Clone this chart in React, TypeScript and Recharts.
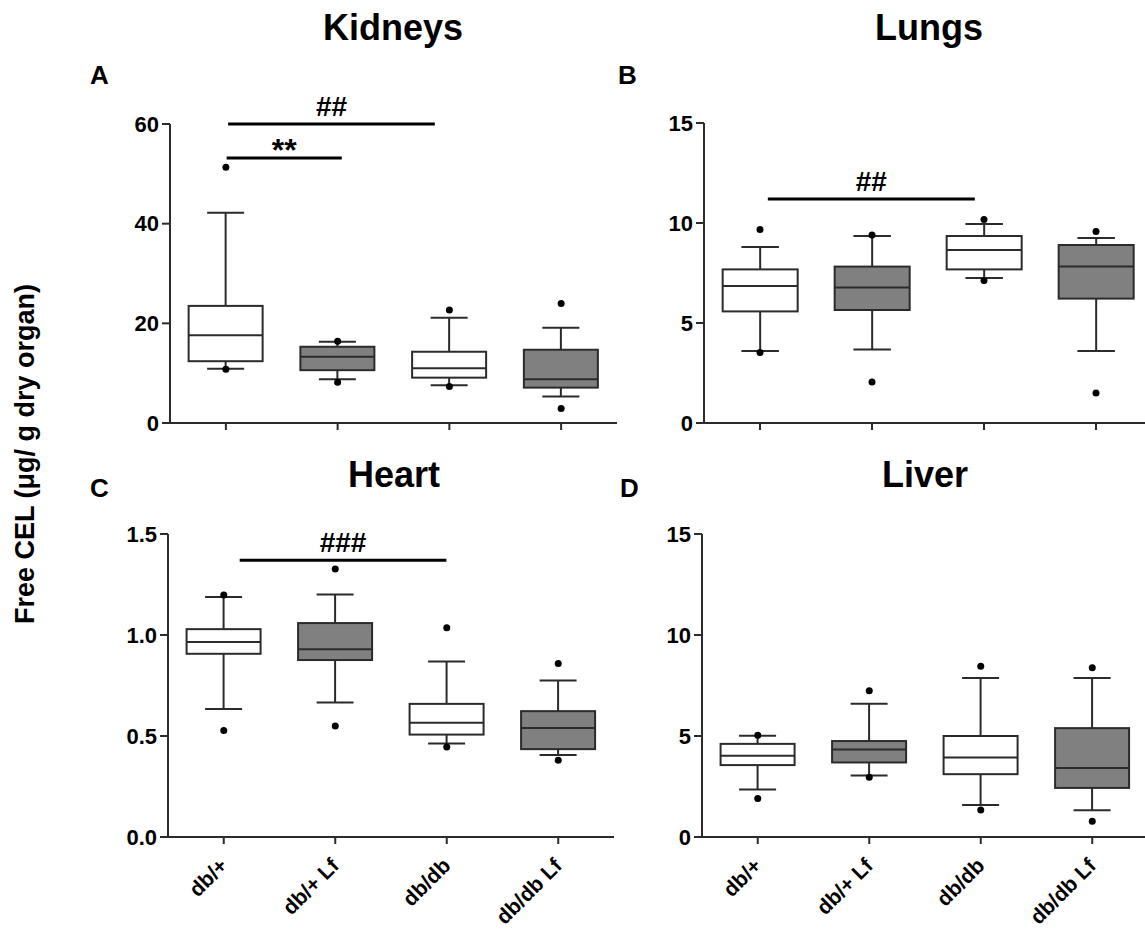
import React from "react";
import { ComposedChart, Bar, Scatter, XAxis, YAxis, ReferenceLine } from "recharts";

// groups on the x axis
const groups = ["db/+", "db/+ Lf", "db/db", "db/db Lf"];

// Kidneys (A)
const kidneysMin = [10.9, 8.8, 7.6, 5.3];
const kidneysQ1 = [12.4, 10.6, 9.1, 7.1];
const kidneysMedian = [17.6, 13.3, 11.0, 8.8];
const kidneysQ3 = [23.5, 15.3, 14.3, 14.7];
const kidneysMax = [42.2, 16.3, 21.1, 19.1];
const kidneysOutHi = [51.3, 16.4, 22.7, 24.0];
const kidneysOutLo = [10.8, 8.2, 7.3, 2.9];

// Lungs (B)
const lungsMin = [3.6, 3.67, 7.25, 3.6];
const lungsQ1 = [5.58, 5.65, 7.68, 6.22];
const lungsMedian = [6.85, 6.78, 8.65, 7.83];
const lungsQ3 = [7.68, 7.82, 9.35, 8.9];
const lungsMax = [8.8, 9.35, 9.95, 9.25];
const lungsOutHi = [9.67, 9.4, 10.18, 9.57];
const lungsOutLo = [3.53, 2.05, 7.13, 1.5];

// Heart (C)
const heartMin = [0.634, 0.666, 0.463, 0.406];
const heartQ1 = [0.907, 0.876, 0.507, 0.435];
const heartMedian = [0.965, 0.929, 0.565, 0.54];
const heartQ3 = [1.029, 1.059, 0.659, 0.623];
const heartMax = [1.188, 1.2, 0.869, 0.775];
const heartOutHi = [1.198, 1.327, 1.036, 0.859];
const heartOutLo = [0.527, 0.549, 0.446, 0.38];

// Liver (D)
const liverMin = [2.35, 3.04, 1.59, 1.32];
const liverQ1 = [3.56, 3.69, 3.11, 2.43];
const liverMedian = [4.02, 4.33, 3.94, 3.42];
const liverQ3 = [4.61, 4.75, 5.0, 5.39];
const liverMax = [5.01, 6.6, 7.87, 7.87];
const liverOutHi = [5.04, 7.24, 8.45, 8.38];
const liverOutLo = [1.9, 2.96, 1.34, 0.78];

// y axis ticks
const kidneysTicks = [0, 20, 40, 60];
const lungsTicks = [0, 5, 10, 15];
const heartTicks = [0, 0.5, 1.0, 1.5];
const liverTicks = [0, 5, 10, 15];

const boxFills = ["#ffffff", "#808080", "#ffffff", "#808080"];
const ink = "#2b2b2b";
const font = '"Liberation Sans", Arial, sans-serif';

type Row = {
  name: string;
  min: number;
  q1: number;
  median: number;
  q3: number;
  max: number;
  outHi: number;
  outLo: number;
};

// from / to are in category widths from the left end of the axis
type Bracket = { from: number; to: number; y: number; text: string; size: number; offset: number };

function buildRows(
  min: number[],
  q1: number[],
  median: number[],
  q3: number[],
  max: number[],
  outHi: number[],
  outLo: number[]
): Row[] {
  return groups.map((name, i) => ({
    name,
    min: min[i],
    q1: q1[i],
    median: median[i],
    q3: q3[i],
    max: max[i],
    outHi: outHi[i],
    outLo: outLo[i],
  }));
}

const kidneysRows = buildRows(kidneysMin, kidneysQ1, kidneysMedian, kidneysQ3, kidneysMax, kidneysOutHi, kidneysOutLo);
const lungsRows = buildRows(lungsMin, lungsQ1, lungsMedian, lungsQ3, lungsMax, lungsOutHi, lungsOutLo);
const heartRows = buildRows(heartMin, heartQ1, heartMedian, heartQ3, heartMax, heartOutHi, heartOutLo);
const liverRows = buildRows(liverMin, liverQ1, liverMedian, liverQ3, liverMax, liverOutHi, liverOutLo);

// the bar spans min..max, the box is drawn inside it
function BoxShape(props: any) {
  const { x, y, width, height, payload } = props;
  if (!payload) return <g />;
  const top = Math.min(y, y + height);
  const h = Math.abs(height);
  const span = payload.max - payload.min || 1;
  const py = (v: number) => top + ((payload.max - v) / span) * h;
  const cx = x + width / 2;
  const cap = width / 4;
  const fill = boxFills[groups.indexOf(payload.name)];
  return (
    <g>
      <line x1={cx} x2={cx} y1={py(payload.max)} y2={py(payload.q3)} stroke={ink} strokeWidth={2} />
      <line x1={cx} x2={cx} y1={py(payload.q1)} y2={py(payload.min)} stroke={ink} strokeWidth={2} />
      <line x1={cx - cap} x2={cx + cap} y1={py(payload.max)} y2={py(payload.max)} stroke={ink} strokeWidth={2} />
      <line x1={cx - cap} x2={cx + cap} y1={py(payload.min)} y2={py(payload.min)} stroke={ink} strokeWidth={2} />
      <rect
        x={x}
        y={py(payload.q3)}
        width={width}
        height={py(payload.q1) - py(payload.q3)}
        fill={fill}
        stroke={ink}
        strokeWidth={2}
      />
      <line x1={x} x2={x + width} y1={py(payload.median)} y2={py(payload.median)} stroke={ink} strokeWidth={2} />
    </g>
  );
}

function OutlierDot(props: any) {
  const { cx, cy } = props;
  if (cx == null || cy == null) return <g />;
  return <circle cx={cx} cy={cy} r={3.5} fill="#000" />;
}

function AngledTick(props: any) {
  const { x, y, payload } = props;
  const ax = x + 5;
  const ay = y + 21;
  return (
    <text
      x={ax}
      y={ay}
      transform={`rotate(-45 ${ax} ${ay})`}
      textAnchor="end"
      fontSize={21}
      fontWeight={700}
      fill="#000"
    >
      {payload.value}
    </text>
  );
}

// reference segment runs from first to last category centre; the bracket is placed inside it
function bracketShape(b: Bracket) {
  return (props: any) => {
    const { x1, y1, x2 } = props;
    const band = (x2 - x1) / (groups.length - 1);
    const xa = x1 + (b.from - 0.5) * band;
    const xb = x1 + (b.to - 0.5) * band;
    return (
      <g>
        <line x1={xa} x2={xb} y1={y1} y2={y1} stroke="#000" strokeWidth={3} />
        <text x={(xa + xb) / 2} y={y1 - b.offset} textAnchor="middle" fontSize={b.size} fontWeight={700} fill="#000">
          {b.text}
        </text>
      </g>
    );
  };
}

type PanelProps = {
  rows: Row[];
  ticks: number[];
  decimals: number;
  left: number;
  top: number;
  width: number;
  height: number;
  marginTop: number;
  labels: boolean;
  brackets: Bracket[];
};

function Panel({ rows, ticks, decimals, left, top, width, height, marginTop, labels, brackets }: PanelProps) {
  return (
    <div style={{ position: "absolute", left, top }}>
      <ComposedChart
        width={width}
        height={height}
        data={rows}
        margin={{ top: marginTop, right: 0, bottom: 0, left: 0 }}
        barCategoryGap="16.67%"
      >
        <XAxis
          dataKey="name"
          type="category"
          interval={0}
          height={labels ? 90 : 20}
          tickSize={7}
          axisLine={{ stroke: ink, strokeWidth: 2 }}
          tickLine={{ stroke: ink, strokeWidth: 2 }}
          tick={labels ? (p: any) => <AngledTick {...p} /> : () => <g />}
        />
        <YAxis
          type="number"
          domain={[ticks[0], ticks[ticks.length - 1]]}
          ticks={ticks}
          interval={0}
          width={110}
          tickSize={8}
          tickMargin={3}
          axisLine={{ stroke: ink, strokeWidth: 2 }}
          tickLine={{ stroke: ink, strokeWidth: 2 }}
          tick={{ fill: "#000", fontSize: 22, fontWeight: 700 }}
          tickFormatter={(v: number) => v.toFixed(decimals)}
        />
        <Bar dataKey={(d: Row) => [d.min, d.max]} shape={BoxShape} isAnimationActive={false} />
        <Scatter dataKey="outHi" shape={OutlierDot} isAnimationActive={false} />
        <Scatter dataKey="outLo" shape={OutlierDot} isAnimationActive={false} />
        {brackets.map((b, i) => (
          <ReferenceLine
            key={i}
            segment={[
              { x: groups[0], y: b.y },
              { x: groups[groups.length - 1], y: b.y },
            ]}
            ifOverflow="visible"
            shape={bracketShape(b)}
          />
        ))}
      </ComposedChart>
    </div>
  );
}

export default function App() {
  const titleStyle = { fontSize: 36, fontWeight: 700, fill: "#000" } as const;
  const letterStyle = { fontSize: 26, fontWeight: 700, fill: "#000" } as const;
  return (
    <div
      style={{
        position: "absolute",
        left: 0,
        top: 0,
        width: 1145,
        height: 933,
        overflow: "hidden",
        background: "#fff",
        fontFamily: font,
      }}
    >
      <Panel
        rows={kidneysRows}
        ticks={kidneysTicks}
        decimals={0}
        left={60}
        top={0}
        width={557}
        height={443}
        marginTop={124}
        labels={false}
        brackets={[
          { from: 0.52, to: 2.37, y: 60, text: "##", size: 28, offset: 8 },
          { from: 0.507, to: 1.537, y: 53.2, text: "**", size: 32, offset: -3 },
        ]}
      />
      <Panel
        rows={lungsRows}
        ticks={lungsTicks}
        decimals={0}
        left={594}
        top={0}
        width={558}
        height={443}
        marginTop={123}
        labels={false}
        brackets={[{ from: 0.57, to: 2.418, y: 11.2, text: "##", size: 28, offset: 8 }]}
      />
      <Panel
        rows={heartRows}
        ticks={heartTicks}
        decimals={1}
        left={58}
        top={500}
        width={556}
        height={427}
        marginTop={34}
        labels={true}
        brackets={[{ from: 0.643, to: 2.497, y: 1.37, text: "###", size: 28, offset: 8 }]}
      />
      <Panel
        rows={liverRows}
        ticks={liverTicks}
        decimals={0}
        left={592}
        top={500}
        width={556}
        height={427}
        marginTop={34}
        labels={true}
        brackets={[]}
      />
      <svg
        width={1145}
        height={933}
        style={{ position: "absolute", left: 0, top: 0, pointerEvents: "none" }}
      >
        <text x={393} y={40} textAnchor="middle" {...titleStyle}>Kidneys</text>
        <text x={929} y={40} textAnchor="middle" {...titleStyle}>Lungs</text>
        <text x={394} y={487} textAnchor="middle" {...titleStyle}>Heart</text>
        <text x={925} y={487} textAnchor="middle" {...titleStyle}>Liver</text>
        <text x={90} y={84} {...letterStyle}>A</text>
        <text x={618} y={84} {...letterStyle}>B</text>
        <text x={90} y={497} {...letterStyle}>C</text>
        <text x={620} y={497} {...letterStyle}>D</text>
        <text
          x={34}
          y={454}
          transform="rotate(-90 34 454)"
          textAnchor="middle"
          fontSize={27}
          fontWeight={700}
          fill="#000"
        >
          Free CEL (μg/ g dry organ)
        </text>
      </svg>
    </div>
  );
}
